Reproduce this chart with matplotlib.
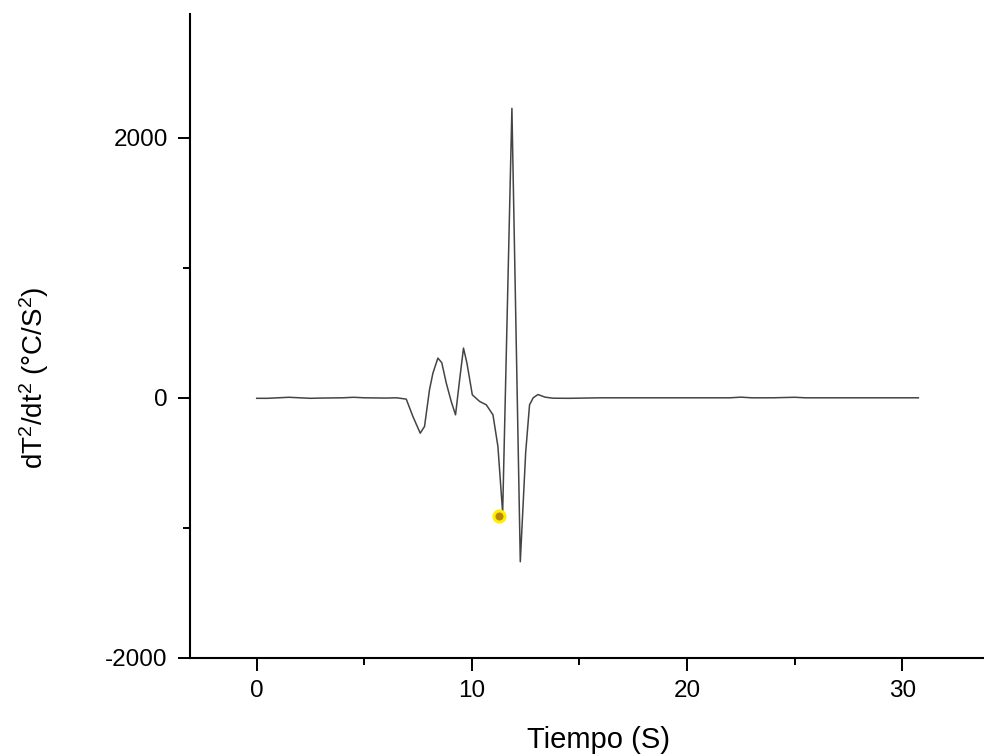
import matplotlib
matplotlib.use("Agg")
import matplotlib.pyplot as plt
from matplotlib.ticker import MultipleLocator

plt.rcParams['font.family'] = ['Liberation Sans', 'DejaVu Sans']
plt.rcParams['mathtext.fontset'] = 'custom'
plt.rcParams['mathtext.rm'] = 'Liberation Sans'
plt.rcParams['mathtext.default'] = 'regular'
plt.rcParams['axes.unicode_minus'] = False

# second derivative of the cooling curve
tiempo = [0, 0.5, 1.0, 1.5, 2.0, 2.5, 3.0, 4.0, 4.5, 5.0, 6.0, 6.5, 6.95,
          7.26, 7.6, 7.8, 8.03, 8.19, 8.42, 8.6, 8.81, 9.04, 9.24, 9.43,
          9.61, 9.77, 10.02, 10.36, 10.67, 10.98, 11.21, 11.43, 11.86,
          12.25, 12.5, 12.68, 12.85, 13.07, 13.4, 13.76, 14.5, 16, 18, 20,
          22, 22.5, 23, 24, 25, 25.5, 26, 28, 30, 30.75]
d2T = [-4, -4, 0, 4, 0, -4, -2, 0, 4, 0, -2, 0, -10,
       -144, -272, -220, 62, 190, 305, 270, 113, -28, -131, 138,
       382, 267, 23, -28, -54, -131, -374, -885, 2225,
       -1260, -420, -54, 0, 25, 5, -3, -4, 0, 0, 0,
       0, 5, 0, 0, 4, 0, 0, 0, 0, 0]

# highlighted point
punto_t = [11.25]
punto_v = [-905]

fig = plt.figure(figsize=(9.84, 7.55), dpi=100)
ax = fig.add_axes([190 / 984, 97 / 755, 794 / 984, 644 / 755])

ax.plot(tiempo, d2T, color='#444444', lw=1.1)
ax.plot(punto_t, punto_v, 'o', ms=8, mfc='#b8860b', mec='#ffee00', mew=2.2)

ax.set_xlim(-3.1, 33.8)
ax.set_ylim(-2000, 2950)
ax.xaxis.set_major_locator(MultipleLocator(10))
ax.xaxis.set_minor_locator(MultipleLocator(5))
ax.yaxis.set_major_locator(MultipleLocator(2000))
ax.yaxis.set_minor_locator(MultipleLocator(1000))

ax.spines['top'].set_visible(False)
ax.spines['right'].set_visible(False)
ax.spines['left'].set_linewidth(1.5)
ax.spines['bottom'].set_linewidth(1.5)
ax.tick_params(which='major', length=9, width=1.4, pad=7, labelsize=17.5)
ax.tick_params(which='minor', length=5, width=1.4)

ax.set_xlabel('Tiempo (S)', fontsize=21, va='center')
ax.xaxis.set_label_coords(0.514, -0.127)
ax.set_ylabel(r'dT$^2$/dt$^2$ (°C/S$^2$)', fontsize=20, va='center')
ax.yaxis.set_label_coords(-0.196, 0.436)

fig.savefig('out.png', dpi=100)
